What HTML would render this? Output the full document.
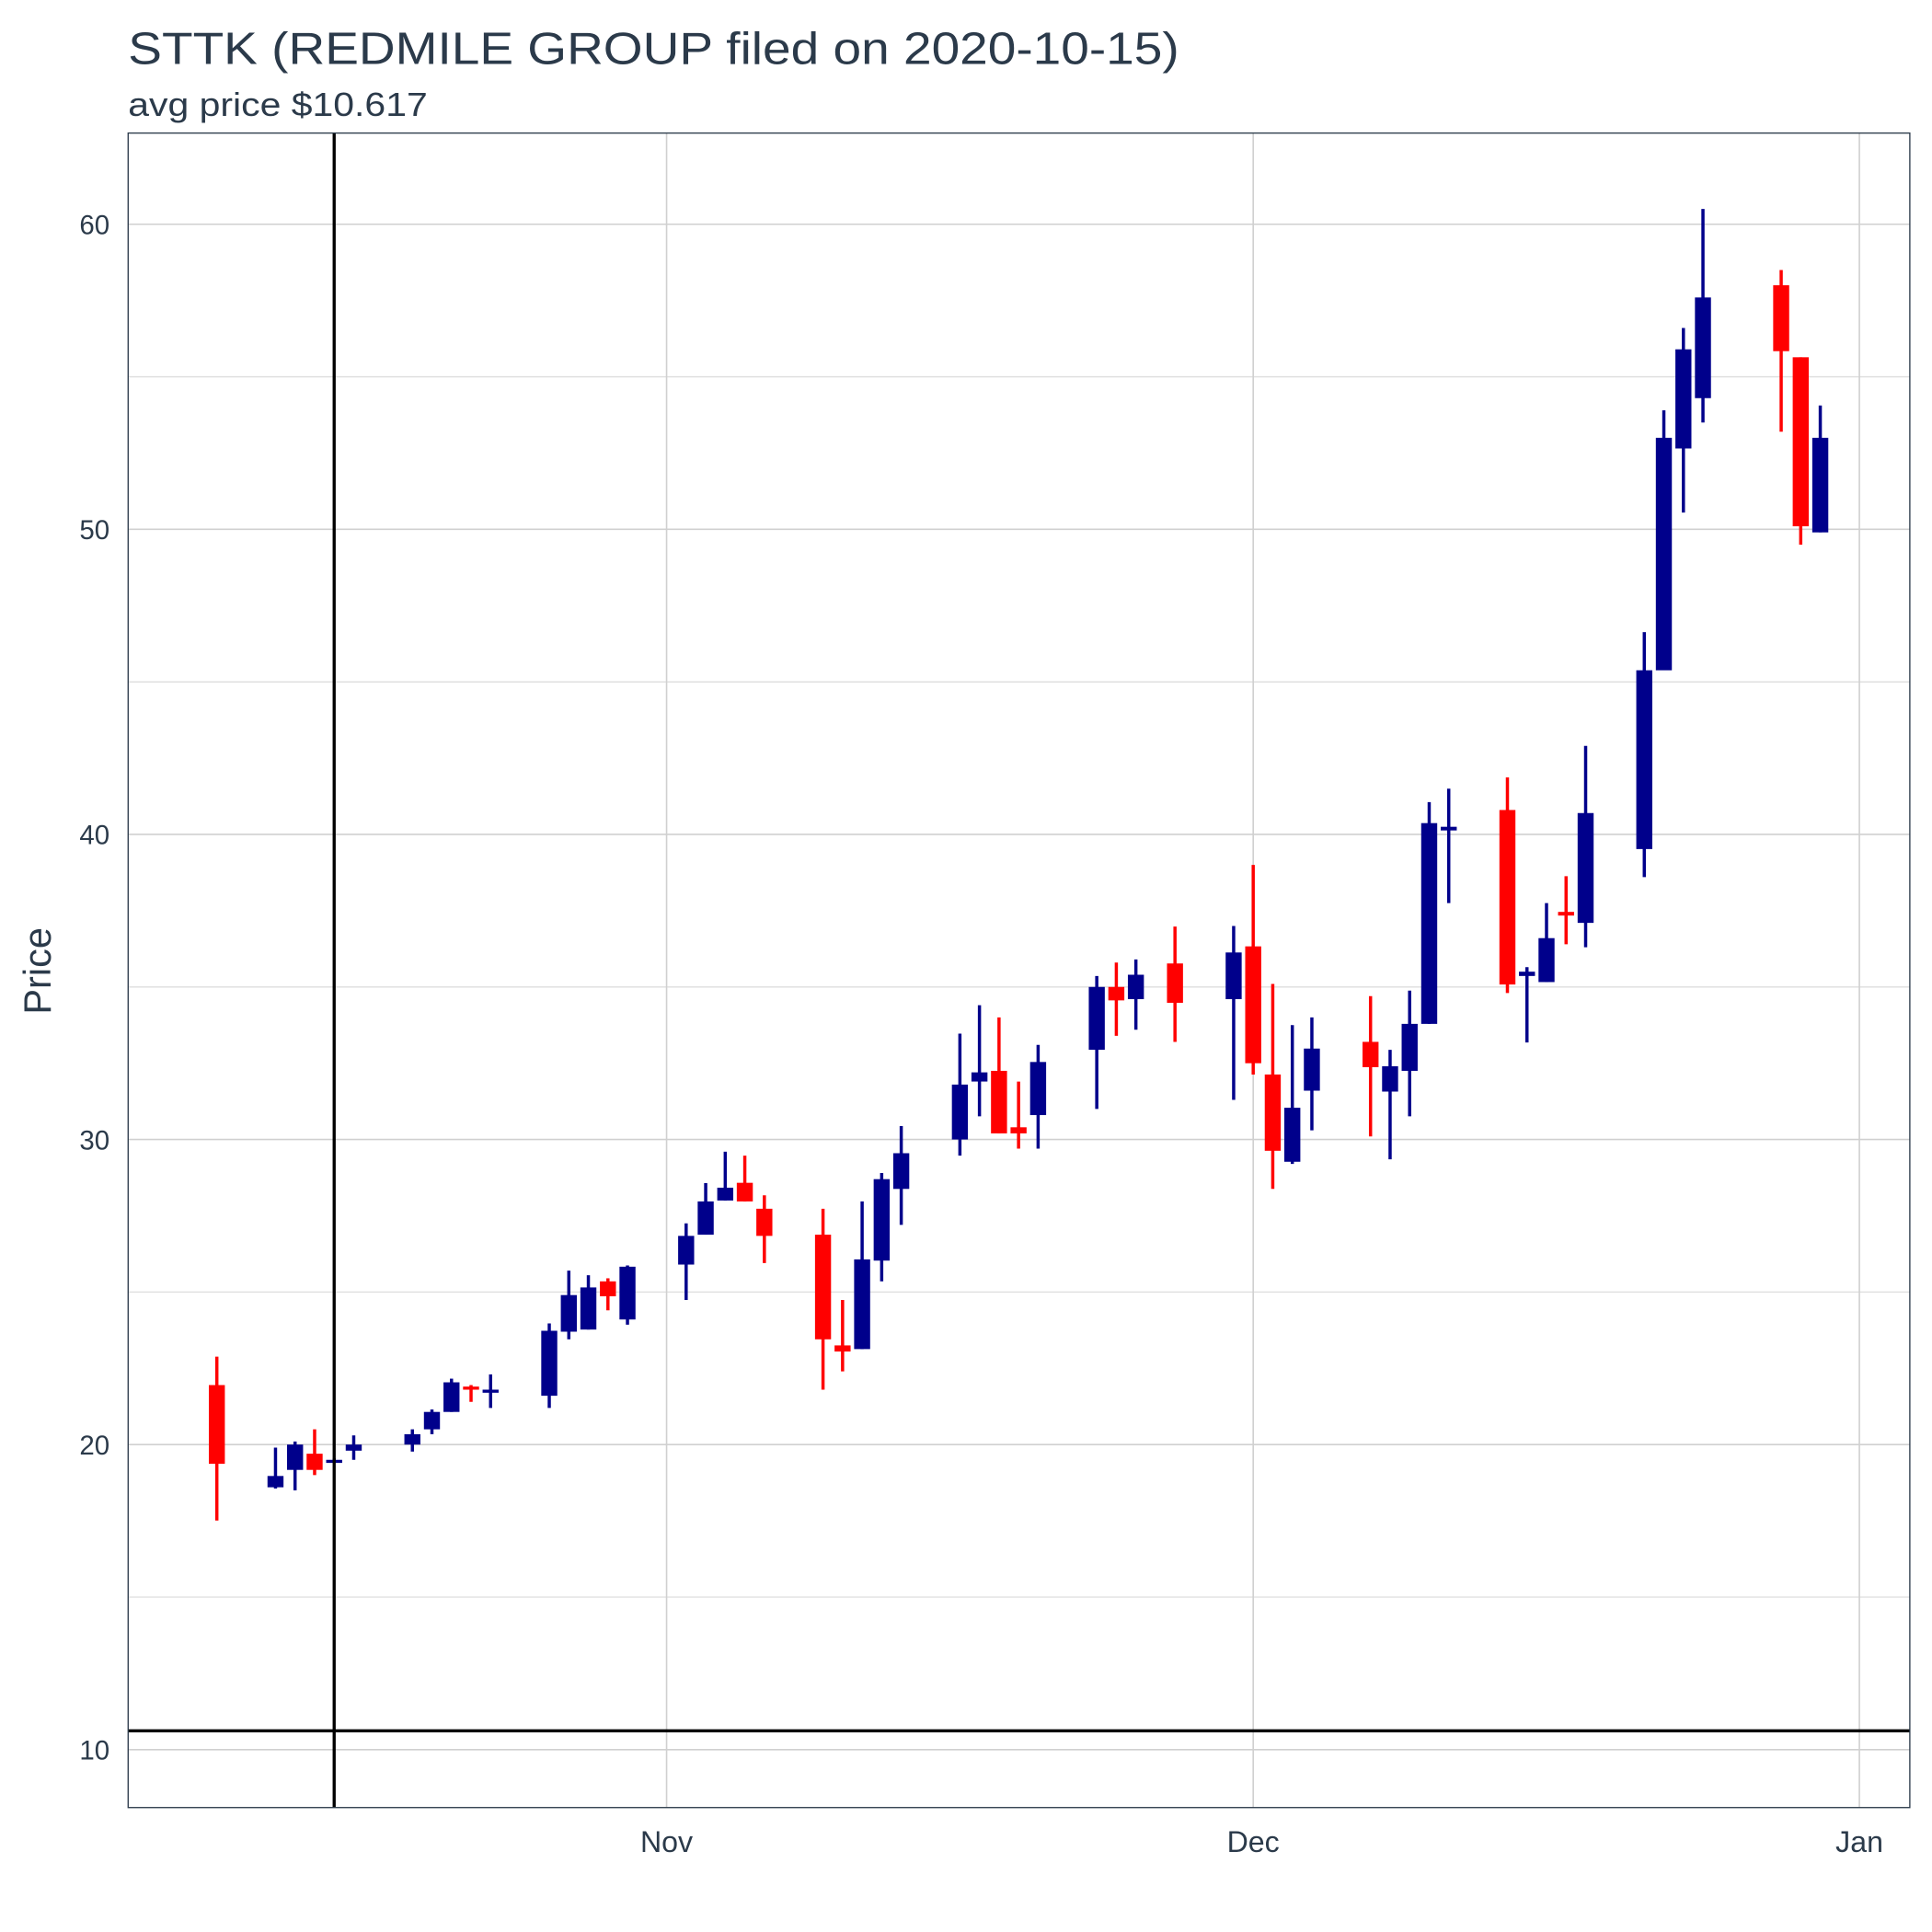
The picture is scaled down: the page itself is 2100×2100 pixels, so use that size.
<!DOCTYPE html>
<html><head><meta charset="utf-8"><style>
html,body{margin:0;padding:0;background:#fff;}
svg{display:block;font-family:"Liberation Sans",sans-serif;}
</style></head><body>
<svg id="chart" width="2100" height="2100" viewBox="0 0 1568 1568" xmlns="http://www.w3.org/2000/svg">
<text x="104" y="52" font-size="37" fill="#2b3a4a" textLength="853" lengthAdjust="spacingAndGlyphs">STTK (REDMILE GROUP filed on 2020-10-15)</text>
<text x="104" y="94" font-size="27" fill="#2b3a4a" textLength="243" lengthAdjust="spacingAndGlyphs">avg price $10.617</text>
<text transform="translate(41,788) rotate(-90)" text-anchor="middle" font-size="31" fill="#2b3a4a">Price</text>
<g id="grid"></g>
<g id="ticks"></g>
<g id="marks"></g>
<g id="refs"></g>
<rect x="104" y="108" width="1446" height="1359" fill="none" stroke="#2b3a4a" stroke-width="1"/>
</svg>
<script>
const dates=["2020-10-09","2020-10-12","2020-10-13","2020-10-14","2020-10-15","2020-10-16","2020-10-19","2020-10-20","2020-10-21","2020-10-22","2020-10-23","2020-10-26","2020-10-27","2020-10-28","2020-10-29","2020-10-30","2020-11-02","2020-11-03","2020-11-04","2020-11-05","2020-11-06","2020-11-09","2020-11-10","2020-11-11","2020-11-12","2020-11-13","2020-11-16","2020-11-17","2020-11-18","2020-11-19","2020-11-20","2020-11-23","2020-11-24","2020-11-25","2020-11-27","2020-11-30","2020-12-01","2020-12-02","2020-12-03","2020-12-04","2020-12-07","2020-12-08","2020-12-09","2020-12-10","2020-12-11","2020-12-14","2020-12-15","2020-12-16","2020-12-17","2020-12-18","2020-12-21","2020-12-22","2020-12-23","2020-12-24","2020-12-28","2020-12-29","2020-12-30"];
const opens=[21.95,18.6,19.17,19.7,19.45,19.8,20.0,20.5,21.07,21.9,21.75,21.6,23.7,23.77,25.35,24.1,25.9,26.88,28.0,28.58,27.73,26.88,23.25,23.13,26.03,28.38,30.0,31.9,32.25,30.4,30.8,32.94,35.0,34.6,35.77,34.6,36.33,32.13,29.27,31.6,33.2,31.57,32.25,33.79,40.13,40.8,35.36,35.16,37.46,37.1,39.52,45.38,52.65,54.3,58.0,55.64,49.9];
const highs=[22.88,19.9,20.1,20.5,19.55,20.3,20.5,21.15,22.16,21.95,22.3,23.97,25.7,25.55,25.45,25.87,27.25,28.57,29.6,29.47,28.17,27.73,24.74,27.97,28.9,30.44,33.47,34.4,34.0,31.9,33.1,35.36,35.8,35.9,36.98,37.0,39.0,35.1,33.75,34.0,34.7,32.94,34.88,41.06,41.5,41.87,35.65,37.75,38.63,42.9,46.63,53.9,56.6,60.5,58.5,55.64,54.06];
const lows=[17.51,18.56,18.5,19.0,19.45,19.5,19.77,20.34,21.07,21.4,21.2,21.2,23.45,23.77,24.4,23.93,24.74,26.88,28.0,27.97,25.95,21.8,22.4,23.13,25.35,27.2,29.47,30.76,30.2,29.7,29.7,31.0,33.4,33.6,33.2,31.3,32.13,28.38,29.2,30.3,30.1,29.35,30.76,33.79,37.75,34.8,33.18,35.16,36.4,36.3,38.6,45.38,50.55,53.5,53.2,49.5,49.9];
const closes=[19.37,18.97,20.0,19.17,19.5,20.0,20.34,21.07,22.04,21.8,21.8,23.73,24.9,25.15,24.86,25.83,26.84,27.97,28.42,27.97,26.84,23.45,23.05,26.07,28.7,29.55,31.8,32.2,30.2,30.2,32.54,35.0,34.56,35.4,34.48,36.13,32.5,29.63,31.04,32.98,32.37,32.4,33.79,40.37,40.25,35.08,35.5,36.6,37.34,40.7,45.38,53.0,55.9,57.6,55.84,50.1,53.0];
const yTicks=[10,20,30,40,50,60];
const yMinor=[15,25,35,45,55];
const xTickDates=["2020-11-01","2020-12-01","2021-01-01"];
const xTickLabels=["Nov","Dec","Jan"];
const filingDate="2020-10-15";
const avgPrice=10.617;

const NS="http://www.w3.org/2000/svg";
const L=104,R=1550,T=108,B=1467;
const base=Date.UTC(2020,10,1);
function dayNum(s){const p=s.split("-");return (Date.UTC(+p[0],+p[1]-1,+p[2])-base)/86400000;}
function xs(s){return 541+15.87*dayNum(s);}
function ys(v){return 182+(60-v)*24.76;}
function mk(tag,attrs,parent){const e=document.createElementNS(NS,tag);for(const k in attrs)e.setAttribute(k,attrs[k]);parent.appendChild(e);return e;}
const grid=document.getElementById("grid"),ticks=document.getElementById("ticks"),marks=document.getElementById("marks"),refs=document.getElementById("refs");
yMinor.forEach(v=>{const l=mk("line",{x1:L,x2:R,y1:ys(v),y2:ys(v),stroke:"#dedede","stroke-width":1},grid);

});
yTicks.forEach(v=>{const l=mk("line",{x1:L,x2:R,y1:ys(v),y2:ys(v),stroke:"#d0d0d0","stroke-width":1.2},grid);


const t=mk("text",{x:89,y:ys(v)+8,"text-anchor":"end","font-size":22,fill:"#2b3a4a"},ticks);t.textContent=v;

});
xTickDates.forEach((d,i)=>{const x=xs(d);const l=mk("line",{x1:x,x2:x,y1:T,y2:B,stroke:"#d0d0d0","stroke-width":1.2},grid);


const t=mk("text",{x:x,y:1503,"text-anchor":"middle","font-size":24,fill:"#2b3a4a"},ticks);t.textContent=xTickLabels[i];

});
dates.forEach((d,i)=>{const x=xs(d);const up=closes[i]>=opens[i];const c=up?"#00008b":"#ff0000";
const g=mk("g",{},marks);


mk("line",{x1:x,x2:x,y1:ys(highs[i]),y2:ys(lows[i]),stroke:c,"stroke-width":2.6},g);
const top=ys(Math.max(opens[i],closes[i])),bot=ys(Math.min(opens[i],closes[i]));
mk("rect",{x:x-6.5,y:top,width:13,height:Math.max(bot-top,2.5),fill:c},g);});
const fx=xs(filingDate);
const vl=mk("line",{x1:fx,x2:fx,y1:T,y2:B,stroke:"#000","stroke-width":2.5},refs);


const hl=mk("line",{x1:L,x2:R,y1:ys(avgPrice),y2:ys(avgPrice),stroke:"#000","stroke-width":2.5},refs);


</script>
</body></html>
